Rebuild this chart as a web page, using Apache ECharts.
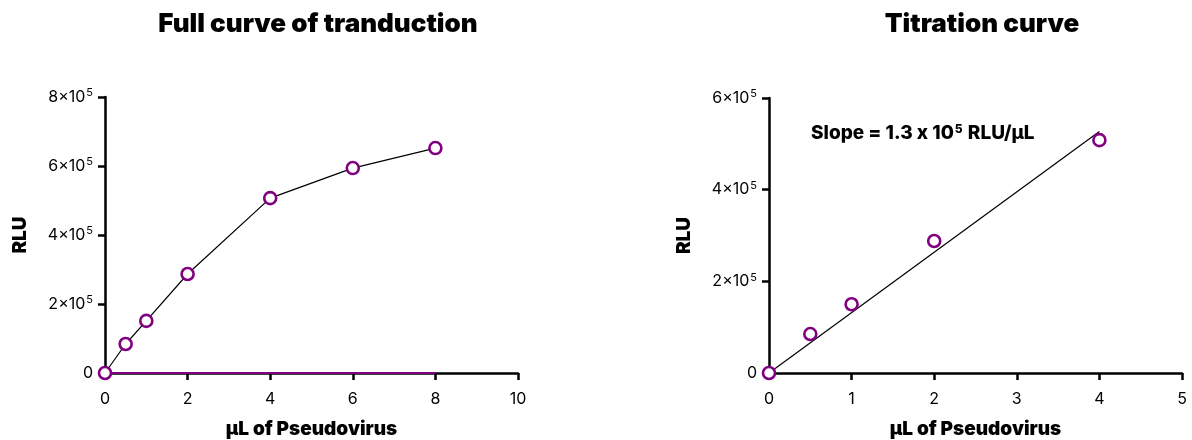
<!DOCTYPE html>
<html><head><meta charset="utf-8">
<script src="https://cdn.jsdelivr.net/npm/echarts@6/dist/echarts.min.js"></script>
<style>html,body{margin:0;padding:0;background:#fff;overflow:hidden}#c{width:1192px;height:440px}</style>
</head><body><div id="c"></div>
<script>
// Full curve data
const fullX = [0, 0.5, 1, 2, 4, 6, 8];
const fullY = [0, 84000, 151000, 287000, 507000, 594000, 652000];
// Titration data
const titX = [0, 0.5, 1, 2, 4];
const titY = [0, 85000, 150000, 288000, 508000];
// Linear fit (through origin), endpoints
const fitX = [0, 4];
const fitY = [0, 527000];
// Baseline on full curve
const baseX = [0, 8];
const baseY = [0, 0];
const titles = ['Full curve of tranduction', 'Titration curve'];
const xName = 'μL of Pseudovirus';
const yName = 'RLU';

const FONT = 'Inter, "Noto Sans", sans-serif';
const PURPLE = '#800080';
const zip = (a, b) => a.map((v, i) => [v, b[i]]);

function yLabel(v) {
  if (v === 0) return '0';
  return '{m|' + (v / 1e5) + '×10}{s|5}';
}
const axisCommon = {
  axisLine: { show: true, onZero: false, lineStyle: { color: '#000', width: 2.5 } },
  axisTick: { show: true, length: 7, lineStyle: { color: '#000', width: 2.5 } },
  splitLine: { show: false },
  nameTextStyle: { fontFamily: FONT, fontWeight: 900, fontSize: 19, color: '#000' }
};
function xAxis(idx, max, interval) {
  return Object.assign({}, axisCommon, {
    type: 'value', gridIndex: idx, min: 0, max: max, interval: interval,
    name: xName, nameLocation: 'middle', nameGap: 47,
    axisLabel: { fontFamily: FONT, fontSize: 16, color: '#000', margin: 18 }
  });
}
function yAxis(idx, max) {
  return Object.assign({}, axisCommon, {
    type: 'value', gridIndex: idx, min: 0, max: max, interval: 200000,
    name: yName, nameLocation: 'middle', nameGap: 75, nameRotate: 90,
    axisLabel: {
      formatter: yLabel, margin: 12, color: '#000', fontFamily: FONT, fontSize: 16,
      rich: {
        m: { fontFamily: FONT, fontSize: 16, color: '#000' },
        s: { fontFamily: FONT, fontSize: 11, color: '#000', verticalAlign: 'top', padding: [0, 0, 8, 1] }
      }
    }
  });
}
const marker = {
  symbol: 'circle', symbolSize: 12,
  itemStyle: { color: '#fff', borderColor: PURPLE, borderWidth: 2.6, opacity: 1 }
};

const chart = echarts.init(document.getElementById('c'), null, { renderer: 'canvas', width: 1192, height: 440 });
chart.setOption({
  animation: false,
  title: [
    { text: titles[0], left: 313, top: 6, textAlign: 'center',
      textStyle: { fontFamily: FONT, fontWeight: 900, fontSize: 26, color: '#000' } },
    { text: titles[1], left: 977, top: 6, textAlign: 'center',
      textStyle: { fontFamily: FONT, fontWeight: 900, fontSize: 26, color: '#000' } }
  ],
  grid: [
    { left: 105, right: 674, top: 97, bottom: 67, outerBoundsMode: 'none', containLabel: false },
    { left: 769, right: 10, top: 98, bottom: 67, outerBoundsMode: 'none', containLabel: false }
  ],
  xAxis: [xAxis(0, 10, 2), xAxis(1, 5, 1)],
  yAxis: [yAxis(0, 800000), yAxis(1, 600000)],
  graphic: [{
    type: 'text', left: 811, top: 123,
    style: {
      text: '{a|Slope = 1.3 x 10}{s|5}{a| RLU/μL}',
      rich: {
        a: { fontFamily: FONT, fontWeight: 800, fontSize: 19, fill: '#000' },
        s: { fontFamily: FONT, fontWeight: 800, fontSize: 12, fill: '#000', verticalAlign: 'top', padding: [0, 1, 9, 1] }
      }
    }
  }],
  series: [
    { type: 'line', xAxisIndex: 0, yAxisIndex: 0, data: zip(baseX, baseY), symbol: 'none',
      lineStyle: { color: PURPLE, width: 2 }, z: 3 },
    Object.assign({ type: 'line', xAxisIndex: 0, yAxisIndex: 0, data: zip(fullX, fullY),
      lineStyle: { color: '#000', width: 1.2 }, z: 5 }, marker),
    { type: 'line', xAxisIndex: 1, yAxisIndex: 1, data: zip(fitX, fitY), symbol: 'none',
      lineStyle: { color: '#000', width: 1.2 }, z: 4 },
    Object.assign({ type: 'scatter', xAxisIndex: 1, yAxisIndex: 1, data: zip(titX, titY), z: 5 }, marker)
  ]
});
</script></body></html>
